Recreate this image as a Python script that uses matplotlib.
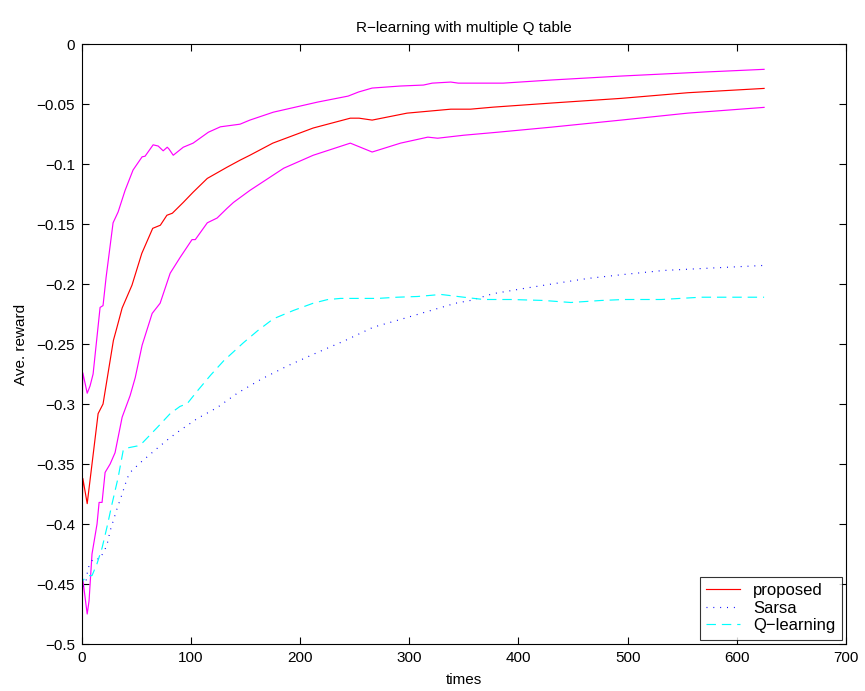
import matplotlib
matplotlib.use("Agg")
import matplotlib.pyplot as plt

plt.rcParams['font.family'] = ['Liberation Sans', 'DejaVu Sans']

# proposed (mean) and its upper / lower band
prop_x = [0, 1, 5, 9, 15, 19.5, 29, 32, 37, 46, 55, 65, 72, 78, 83, 93, 102, 115,
          133, 145, 154, 175, 212, 246, 254, 266, 298, 338, 356, 377, 430, 494, 555, 625]
prop_y = [-0.406, -0.362, -0.383, -0.353, -0.308, -0.300, -0.247, -0.237, -0.220,
          -0.201, -0.1745, -0.1536, -0.151, -0.1427, -0.141, -0.132, -0.1235, -0.112,
          -0.1027, -0.0968, -0.0927, -0.0826, -0.070, -0.0618, -0.0618, -0.0634,
          -0.0576, -0.0543, -0.0543, -0.0526, -0.0492, -0.0453, -0.0406, -0.037]

upper_x = [0, 1, 5, 7.6, 10.4, 16.8, 19.5, 22.3, 28.7, 33.3, 39.7, 47, 55.3, 58, 65.4,
           70, 74.6, 78.3, 80, 83.8, 93, 102, 116, 127, 145, 154, 175.5, 216, 244,
           253.5, 266, 292, 313, 321, 338, 345, 368, 386, 430, 494, 555, 625]
upper_y = [-0.322, -0.274, -0.291, -0.285, -0.275, -0.2195, -0.218, -0.1945, -0.149,
           -0.140, -0.122, -0.105, -0.094, -0.0935, -0.084, -0.085, -0.089, -0.086,
           -0.0876, -0.0927, -0.086, -0.0826, -0.0735, -0.069, -0.0668, -0.0634,
           -0.0568, -0.0484, -0.0434, -0.040, -0.0367, -0.035, -0.0342, -0.0326,
           -0.0317, -0.0326, -0.0326, -0.0326, -0.030, -0.0267, -0.024, -0.0211]

lower_x = [0, 1, 4, 5, 6.7, 9.4, 14, 15.9, 18.6, 21.4, 26, 30.5, 37, 44.3, 49, 55.3,
           64.5, 71.8, 81, 90, 101, 104, 115, 124, 133, 139, 154, 185, 212, 246, 266,
           292, 317, 326, 350, 381, 430, 494, 555, 625]
lower_y = [-0.487, -0.446, -0.468, -0.475, -0.464, -0.425, -0.400, -0.382, -0.382,
           -0.357, -0.350, -0.3406, -0.311, -0.293, -0.278, -0.251, -0.2245, -0.216,
           -0.191, -0.178, -0.163, -0.163, -0.149, -0.145, -0.137, -0.132, -0.122,
           -0.1035, -0.0927, -0.0826, -0.090, -0.0826, -0.0776, -0.0785, -0.076,
           -0.0735, -0.0693, -0.0634, -0.0576, -0.0528]

sarsa_x = [1, 4, 5.8, 10.4, 16.8, 19.5, 23, 26, 32.4, 37, 41.6, 44.3, 53.5, 69, 81, 90,
           106, 124, 142.5, 165, 189, 216, 241.5, 267, 294, 320, 342.5, 356, 377, 405,
           434, 464, 497, 533, 570, 625]
sarsa_y = [-0.452, -0.447, -0.4366, -0.429, -0.429, -0.424, -0.418, -0.4057, -0.387,
           -0.375, -0.362, -0.357, -0.349, -0.337, -0.328, -0.322, -0.312, -0.303,
           -0.291, -0.279, -0.268, -0.257, -0.247, -0.236, -0.229, -0.222, -0.216,
           -0.2137, -0.208, -0.2037, -0.1995, -0.1953, -0.192, -0.1887, -0.187, -0.1845]

qlearn_x = [0, 1, 5.8, 9.4, 14, 18.6, 23, 27.8, 33.3, 37.9, 39.7, 50.7, 56, 69, 81, 90,
            96.6, 106, 118, 130, 148, 161, 175.5, 194, 212, 225, 237, 255, 271, 289,
            307.6, 329, 350, 368, 393, 423, 448, 476, 497, 531, 567, 592, 625]
qlearn_y = [-0.453, -0.447, -0.443, -0.443, -0.433, -0.420, -0.403, -0.383, -0.3614,
            -0.339, -0.337, -0.335, -0.332, -0.3197, -0.308, -0.302, -0.2997, -0.289,
            -0.276, -0.264, -0.249, -0.239, -0.229, -0.222, -0.216, -0.213, -0.212,
            -0.212, -0.212, -0.211, -0.2104, -0.2087, -0.211, -0.2129, -0.2129,
            -0.2137, -0.2154, -0.2137, -0.2129, -0.2129, -0.211, -0.211, -0.211]

x_ticks = [0, 100, 200, 300, 400, 500, 600, 700]
y_ticks = [0, -0.05, -0.1, -0.15, -0.2, -0.25, -0.3, -0.35, -0.4, -0.45, -0.5]
y_labels = ["0", "\u22120.05", "\u22120.1", "\u22120.15", "\u22120.2", "\u22120.25",
            "\u22120.3", "\u22120.35", "\u22120.4", "\u22120.45", "\u22120.5"]

fig = plt.figure(figsize=(8.65, 6.91), dpi=100)
ax = fig.add_axes([0.0945, 0.068, 0.8835, 0.8683])

ax.plot(upper_x, upper_y, color="#ff00ff", lw=0.85)
ax.plot(lower_x, lower_y, color="#ff00ff", lw=0.85)
ax.plot(prop_x, prop_y, color="red", lw=0.85, label="proposed")
ax.plot(sarsa_x, sarsa_y, color="blue", lw=0.85, dashes=(0.8, 5), label="Sarsa")
ax.plot(qlearn_x, qlearn_y, color="cyan", lw=0.85, dashes=(8, 5), label="Q\u2212learning")

ax.set_xlim(0, 700)
ax.set_ylim(-0.5, 0)
ax.set_xticks(x_ticks)
ax.set_yticks(y_ticks)
ax.set_yticklabels(y_labels)
ax.tick_params(direction="in", top=True, right=True, length=5, width=0.8,
               labelsize=11, pad=5)
for s in ax.spines.values():
    s.set_linewidth(0.8)

ax.set_title("R\u2212learning with multiple Q table", fontsize=11, pad=9)
ax.set_xlabel("times", fontsize=11, labelpad=6)
ax.set_ylabel("Ave. reward", fontsize=11, labelpad=6)

leg = ax.legend(loc="lower right", fontsize=12, frameon=True, fancybox=False,
                edgecolor="black", borderaxespad=0.25, handlelength=2.0,
                handletextpad=0.8, labelspacing=0.15, borderpad=0.4)
leg.get_frame().set_linewidth(0.8)

fig.savefig("out.png", dpi=100)
